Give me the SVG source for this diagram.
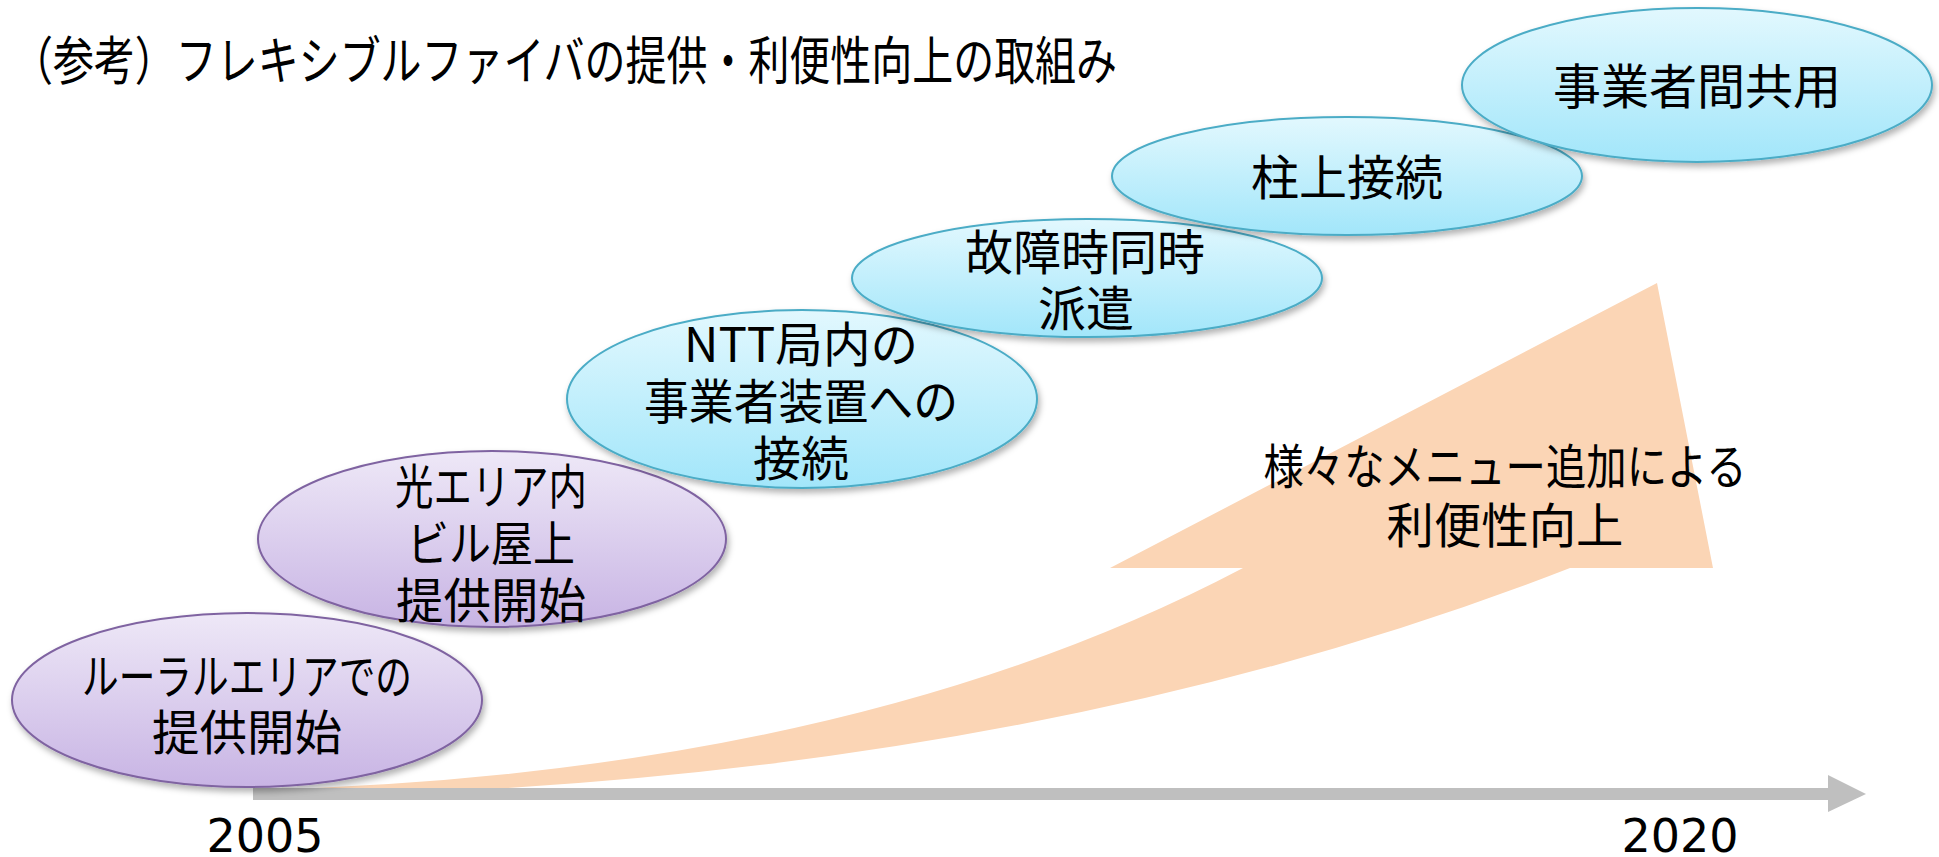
<svg xmlns="http://www.w3.org/2000/svg" width="1939" height="857" viewBox="0 0 1939 857">
<defs>
<linearGradient id="gPurple" x1="0" y1="0" x2="0" y2="1">
<stop offset="0" stop-color="#EEE8F7"/>
<stop offset="1" stop-color="#C8B4E4"/>
</linearGradient>
<linearGradient id="gBlue" x1="0" y1="0" x2="0" y2="1">
<stop offset="0" stop-color="#E2F8FE"/>
<stop offset="1" stop-color="#A2E6FA"/>
</linearGradient>
<filter id="shadow" x="-10%" y="-20%" width="120%" height="150%">
<feDropShadow dx="2" dy="4" stdDeviation="3" flood-color="#000" flood-opacity="0.3"/>
</filter>
</defs>
<style>
text{font-family:"Noto Sans CJK JP","Noto Sans",sans-serif;fill:#000;text-anchor:middle;}
.t{font-size:48px;}
.p{fill:url(#gPurple);stroke:#7F63A1;stroke-width:2;filter:url(#shadow);}
.b{fill:url(#gBlue);stroke:#4BACC6;stroke-width:2;filter:url(#shadow);}
.yr{font-family:"DejaVu Sans","Noto Sans",sans-serif;font-size:46px;}
</style>
<rect width="1939" height="857" fill="#fff"/>
<text x="12" y="80" style="text-anchor:start;font-size:52px" textLength="1105" lengthAdjust="spacingAndGlyphs">（参考）フレキシブルファイバの提供・利便性向上の取組み</text>
<g id="connectors">
<path d="M253,790 Q850,775 1243,568 L1110,568 L1657,283 L1713,568 L1570,568 Q1000,790 253,797 Z" fill="#FBD5B5"/>
<rect x="253" y="788" width="1576" height="12" fill="#BFBFBF"/>
<polygon points="1828,775 1866,794 1828,812" fill="#BFBFBF"/>
</g>
<g id="label-menu">
<text class="t" x="1505" y="484" textLength="483" lengthAdjust="spacingAndGlyphs">様々なメニュー追加による</text>
<text class="t" x="1505" y="543" textLength="237" lengthAdjust="spacingAndGlyphs">利便性向上</text>
</g>
<g id="node-rural">
<ellipse class="p" cx="247" cy="700" rx="235" ry="87"/>
<text class="t" x="247" y="694" textLength="330" lengthAdjust="spacingAndGlyphs">ルーラルエリアでの</text>
<text class="t" x="247" y="750" textLength="190" lengthAdjust="spacingAndGlyphs">提供開始</text>
</g>
<g id="node-building">
<ellipse class="p" cx="492" cy="539" rx="234" ry="88"/>
<text class="t" x="491" y="504" textLength="192" lengthAdjust="spacingAndGlyphs">光エリア内</text>
<text class="t" x="491" y="561" textLength="168" lengthAdjust="spacingAndGlyphs">ビル屋上</text>
<text class="t" x="491" y="618" textLength="190" lengthAdjust="spacingAndGlyphs">提供開始</text>
</g>
<g id="node-ntt">
<ellipse class="b" cx="802" cy="399" rx="235" ry="89"/>
<text class="t" x="801" y="362" textLength="234" lengthAdjust="spacingAndGlyphs">NTT局内の</text>
<text class="t" x="801" y="419" textLength="314" lengthAdjust="spacingAndGlyphs">事業者装置への</text>
<text class="t" x="801" y="476">接続</text>
</g>
<g id="node-dispatch">
<ellipse class="b" cx="1087" cy="278" rx="235" ry="59"/>
<text class="t" x="1085" y="270">故障時同時</text>
<text class="t" x="1086" y="326">派遣</text>
</g>
<g id="node-pole">
<ellipse class="b" cx="1347" cy="176" rx="235" ry="59"/>
<text class="t" x="1347" y="195">柱上接続</text>
</g>
<g id="node-shared">
<ellipse class="b" cx="1697" cy="85" rx="235" ry="77"/>
<text class="t" x="1697" y="104">事業者間共用</text>
</g>
<g id="years">
<text class="yr" x="265" y="852">2005</text>
<text class="yr" x="1680" y="852">2020</text>
</g>
</svg>
